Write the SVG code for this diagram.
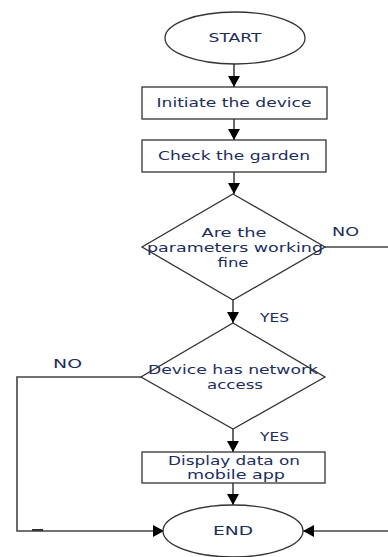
<svg xmlns="http://www.w3.org/2000/svg" width="388" height="557" viewBox="0 0 388 557">
<defs>
<marker id="ah" markerUnits="userSpaceOnUse" markerWidth="12" markerHeight="12" viewBox="0 0 12 12" refX="11" refY="6" orient="auto">
<path d="M0,0 L11,6 L0,12 Z" fill="#000"/>
</marker>
</defs>
<style>
.sh{fill:#fff;stroke:#333;stroke-width:1.3}
.ln{fill:none;stroke:#444;stroke-width:1.6}
.t{font-family:"DejaVu Sans","Liberation Sans",sans-serif;font-size:12px;fill:#1c2d5e;text-anchor:middle;dominant-baseline:central}
.lb{font-family:"DejaVu Sans","Liberation Sans",sans-serif;font-size:12px;fill:#1c2d5e;dominant-baseline:central}
</style>
<rect width="388" height="557" fill="#fff"/>
<g id="connectors">
<line class="ln" x1="234" y1="64" x2="234" y2="87" marker-end="url(#ah)"/>
<line class="ln" x1="234" y1="119" x2="234" y2="140" marker-end="url(#ah)"/>
<line class="ln" x1="234" y1="172" x2="234" y2="194" marker-end="url(#ah)"/>
<line class="ln" x1="325" y1="247" x2="388" y2="247"/>
<line class="ln" x1="233" y1="300" x2="233" y2="323" marker-end="url(#ah)"/>
<line class="ln" x1="233" y1="429" x2="233" y2="452" marker-end="url(#ah)"/>
<line class="ln" x1="233" y1="483" x2="233" y2="505" marker-end="url(#ah)"/>
<polyline class="ln" points="141,377 17,377 17,531 164,531" marker-end="url(#ah)"/>
<line x1="32" y1="530" x2="43" y2="530" stroke="#333" stroke-width="2"/>
<line class="ln" x1="388" y1="531" x2="303" y2="531" marker-end="url(#ah)"/>
<text class="lb" x="332" y="232" textLength="27" lengthAdjust="spacingAndGlyphs">NO</text>
<text class="lb" x="260" y="318" textLength="29" lengthAdjust="spacingAndGlyphs">YES</text>
<text class="lb" x="53" y="364" textLength="29" lengthAdjust="spacingAndGlyphs">NO</text>
<text class="lb" x="260" y="437" textLength="29" lengthAdjust="spacingAndGlyphs">YES</text>
</g>
<g id="start">
<ellipse class="sh" cx="235" cy="38" rx="70" ry="26"/>
<text class="t" x="235" y="38" textLength="53" lengthAdjust="spacingAndGlyphs">START</text>
</g>
<g id="initiate">
<rect class="sh" x="142" y="87" width="185" height="32"/>
<text class="t" x="234" y="103" textLength="155" lengthAdjust="spacingAndGlyphs">Initiate the device</text>
</g>
<g id="check">
<rect class="sh" x="142" y="140" width="184" height="32"/>
<text class="t" x="234" y="156" textLength="152" lengthAdjust="spacingAndGlyphs">Check the garden</text>
</g>
<g id="params">
<polygon class="sh" points="233,194 325,247 233,300 142,247"/>
<text class="t" x="234" y="233" textLength="65" lengthAdjust="spacingAndGlyphs">Are the</text>
<text class="t" x="235" y="248" textLength="176" lengthAdjust="spacingAndGlyphs">parameters working</text>
<text class="t" x="233" y="263" textLength="31" lengthAdjust="spacingAndGlyphs">fine</text>
</g>
<g id="network">
<polygon class="sh" points="233,323 325,377 233,429 141,377"/>
<text class="t" x="233" y="370" textLength="170" lengthAdjust="spacingAndGlyphs">Device has network</text>
<text class="t" x="235" y="385" textLength="56" lengthAdjust="spacingAndGlyphs">access</text>
</g>
<g id="display">
<rect class="sh" x="142" y="452" width="183" height="31"/>
<text class="t" x="234" y="461" textLength="132" lengthAdjust="spacingAndGlyphs">Display data on</text>
<text class="t" x="236" y="475" textLength="98" lengthAdjust="spacingAndGlyphs">mobile app</text>
</g>
<g id="end">
<ellipse class="sh" cx="233" cy="531" rx="70" ry="26"/>
<text class="t" x="233" y="531" textLength="40" lengthAdjust="spacingAndGlyphs">END</text>
</g>
</svg>
